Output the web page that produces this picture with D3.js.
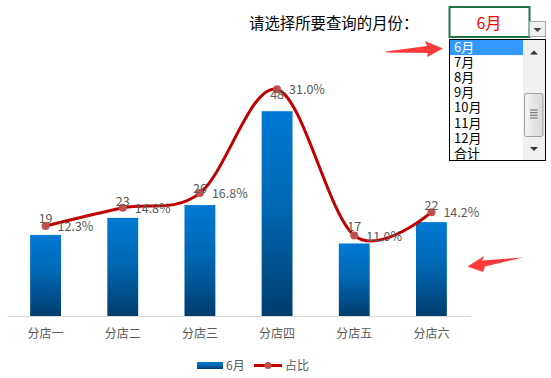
<!DOCTYPE html>
<html>
<head>
<meta charset="utf-8">
<script src="https://cdn.jsdelivr.net/npm/d3@7"></script>
<style>
  body { margin: 0; background: #fff; }
  svg { display: block; font-family: "Noto Sans CJK SC", "Noto Sans", sans-serif; }
</style>
</head>
<body>
<svg id="chart"></svg>
<script>
// data
const categories = ["分店一", "分店二", "分店三", "分店四", "分店五", "分店六"];
const sales = [19, 23, 26, 48, 17, 22];
const shares = [0.123, 0.148, 0.168, 0.310, 0.110, 0.142];
const months = ["6月", "7月", "8月", "9月", "10月", "11月", "12月", "合计"];
const selectedMonth = "6月";
const promptText = "请选择所要查询的月份：";
const legendNames = ["6月", "占比"];

let svg = d3.select("#chart")
  .attr("width", 551)
  .attr("height", 378);

let defs = svg.append("defs");
let grad = defs.append("linearGradient")
  .attr("id", "barGrad")
  .attr("x1", 0).attr("y1", 0).attr("x2", 0).attr("y2", 1);
grad.append("stop").attr("offset", "0%").attr("stop-color", "#0079d3");
grad.append("stop").attr("offset", "45%").attr("stop-color", "#0068b5");
grad.append("stop").attr("offset", "100%").attr("stop-color", "#003d6e");

let thumbGrad = defs.append("linearGradient")
  .attr("id", "thumbGrad")
  .attr("x1", 0).attr("y1", 0).attr("x2", 1).attr("y2", 0);
thumbGrad.append("stop").attr("offset", "0%").attr("stop-color", "#f4f4f4");
thumbGrad.append("stop").attr("offset", "100%").attr("stop-color", "#d8d8d8");

// scales
let x = d3.scaleBand()
  .domain(categories)
  .range([7, 470])
  .paddingInner(0.6)
  .paddingOuter(0.3);

let y = d3.scaleLinear().domain([0, 60]).range([316, 60]);
let y2 = d3.scaleLinear().domain([0, 0.35]).range([316, 60]);

let textColor = "#595959";

// bars
let plot = svg.append("g");

plot.selectAll("rect.bar")
  .data(sales)
  .join("rect")
  .attr("class", "bar")
  .attr("x", (d, i) => x(categories[i]))
  .attr("y", d => y(d))
  .attr("width", x.bandwidth())
  .attr("height", d => y(0) - y(d))
  .attr("fill", "url(#barGrad)");

// category axis
let xAxis = svg.append("g")
  .attr("transform", "translate(0," + y(0) + ")")
  .call(d3.axisBottom(x).tickSize(0).tickPadding(13));
xAxis.select(".domain").attr("stroke", "#d9d9d9").attr("stroke-width", 1.2);
xAxis.selectAll("text")
  .attr("fill", textColor)
  .style("font-size", "12px")
  .style("font-family", "'Noto Sans CJK SC', sans-serif");

// share line
let cx = (d, i) => x(categories[i]) + x.bandwidth() / 2;

let line = d3.line()
  .x(cx)
  .y(d => y2(d))
  .curve(d3.curveCardinal.tension(0));

plot.append("path")
  .datum(shares)
  .attr("d", line)
  .attr("fill", "none")
  .attr("stroke", "#c00000")
  .attr("stroke-width", 3);

plot.selectAll("circle.pt")
  .data(shares)
  .join("circle")
  .attr("class", "pt")
  .attr("cx", cx)
  .attr("cy", d => y2(d))
  .attr("r", 4)
  .attr("fill", "#c0504d");

// labels
plot.selectAll("text.val")
  .data(sales)
  .join("text")
  .attr("class", "val")
  .attr("x", cx)
  .attr("y", d => y(d) - 12)
  .attr("text-anchor", "middle")
  .attr("fill", textColor)
  .style("font-size", "12.5px")
  .text(d => d);

let pct = d3.format(".1%");
plot.selectAll("text.pct")
  .data(shares)
  .join("text")
  .attr("class", "pct")
  .attr("x", (d, i) => cx(d, i) + 12)
  .attr("y", d => y2(d) + 5)
  .attr("fill", textColor)
  .style("font-size", "12.5px")
  .text(d => pct(d));

// legend
let legend = svg.append("g");
legend.append("rect")
  .attr("x", 197).attr("y", 362)
  .attr("width", 26).attr("height", 7)
  .attr("fill", "url(#barGrad)");
legend.append("text")
  .attr("x", 226).attr("y", 369.5)
  .attr("fill", textColor)
  .style("font-size", "12px")
  .text(legendNames[0]);
legend.append("line")
  .attr("x1", 254).attr("x2", 282)
  .attr("y1", 365.5).attr("y2", 365.5)
  .attr("stroke", "#c00000").attr("stroke-width", 3);
legend.append("circle")
  .attr("cx", 268).attr("cy", 365.5).attr("r", 3.5)
  .attr("fill", "#c0504d");
legend.append("text")
  .attr("x", 285).attr("y", 369.5)
  .attr("fill", textColor)
  .style("font-size", "12px")
  .text(legendNames[1]);

// month selector
let sel = svg.append("g");
sel.append("text")
  .attr("x", 249).attr("y", 29)
  .attr("fill", "#000")
  .style("font-size", "15.4px")
  .text(promptText);

sel.append("rect")
  .attr("x", 449.5).attr("y", 7)
  .attr("width", 80).attr("height", 30)
  .attr("fill", "#fff")
  .attr("stroke", "#217346").attr("stroke-width", 2);
sel.append("text")
  .attr("x", 489).attr("y", 29)
  .attr("text-anchor", "middle")
  .attr("fill", "#ff0000")
  .style("font-size", "16px")
  .text(selectedMonth);

// drop button
sel.append("rect")
  .attr("x", 529.5).attr("y", 21.5)
  .attr("width", 16).attr("height", 15)
  .attr("fill", "#f0f0f0")
  .attr("stroke", "#a6a6a6");
sel.append("path")
  .attr("d", "M533.5,28 L541.5,28 L537.5,32 Z")
  .attr("fill", "#444");

// list box
let itemH = 15.1;
let listTop = 39.5;
sel.append("rect")
  .attr("x", 449.5).attr("y", listTop)
  .attr("width", 96).attr("height", 121)
  .attr("fill", "#fff")
  .attr("stroke", "#000");

sel.append("rect")
  .attr("x", 450).attr("y", listTop + 0.5)
  .attr("width", 73).attr("height", itemH)
  .attr("fill", "#3399ff");

sel.selectAll("text.item")
  .data(months)
  .join("text")
  .attr("class", "item")
  .attr("x", 454)
  .attr("y", (d, i) => listTop + 12.5 + i * itemH)
  .attr("fill", d => d === selectedMonth ? "#fff" : "#000")
  .style("font-size", "13px")
  .text(d => d);

// scrollbar
sel.append("rect")
  .attr("x", 523).attr("y", 40)
  .attr("width", 22).attr("height", 120)
  .attr("fill", "#f0f0f0");
sel.append("path")
  .attr("d", "M530,54.5 L538,54.5 L534,50.5 Z")
  .attr("fill", "#333");
sel.append("path")
  .attr("d", "M530,147 L538,147 L534,151 Z")
  .attr("fill", "#333");
sel.append("rect")
  .attr("x", 524.5).attr("y", 93.5)
  .attr("width", 18.5).attr("height", 43)
  .attr("rx", 2)
  .attr("fill", "url(#thumbGrad)")
  .attr("stroke", "#a0a0a0");
[110, 112.7, 115.3, 118].forEach(gy => {
  sel.append("line")
    .attr("x1", 530).attr("x2", 537.5)
    .attr("y1", gy).attr("y2", gy)
    .attr("stroke", "#666").attr("stroke-width", 1);
});

// red arrows
svg.append("path")
  .attr("d", "M386,51.5 L427,46 L425,41 L443,48.5 L427,57 L428,53 L386,52.5 Z")
  .attr("fill", "#ff3b3b");
svg.append("path")
  .attr("d", "M467.5,266.5 L484,256 L482,260.5 L523,257.5 L485,266.5 L483,272 Z")
  .attr("fill", "#ff3b3b");
</script>
</body>
</html>
